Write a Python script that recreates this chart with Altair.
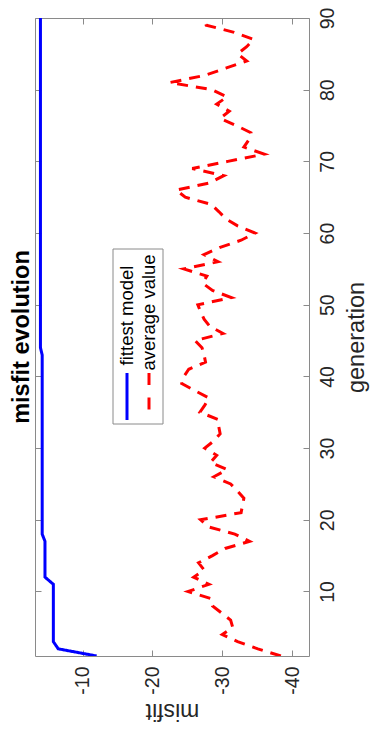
import altair as alt
import pandas as pd

# Series names, in legend order
series_names = ["fittest model", "average value"]
series_colors = ["#0000ff", "#ff0000"]
chart_title = "misfit evolution"

# Generation index of every sample
generation = list(range(1, 91))

# Misfit of the best model found so far, per generation
fittest = [
    -12.0, -6.5, -5.8, -5.8, -5.8, -5.8, -5.8, -5.8, -5.8, -5.8,
    -5.8, -4.6, -4.6, -4.6, -4.6, -4.6, -4.6, -4.2, -4.2, -4.2,
    -4.2, -4.2, -4.2, -4.2, -4.2, -4.2, -4.2, -4.2, -4.2, -4.2,
    -4.2, -4.2, -4.2, -4.2, -4.2, -4.2, -4.2, -4.2, -4.2, -4.2,
    -4.2, -4.2, -4.2, -3.95, -3.95, -3.95, -3.95, -3.95, -3.95, -3.95,
    -3.95, -3.95, -3.95, -3.95, -3.95, -3.95, -3.95, -3.95, -3.95, -3.95,
    -3.95, -3.95, -3.95, -3.95, -3.95, -3.95, -3.95, -3.95, -3.95, -3.95,
    -3.95, -3.95, -3.95, -3.95, -3.95, -3.95, -3.95, -3.95, -3.95, -3.95,
    -3.95, -3.95, -3.95, -3.95, -3.95, -3.95, -3.95, -3.95, -3.95, -3.95,
]

# Mean misfit of the population, per generation
average = [
    -38.4, -35.1, -32.2, -30.0, -31.5, -31.2, -29.9, -28.6, -28.4, -25.1,
    -28.1, -25.9, -27.4, -26.6, -28.6, -30.4, -33.9, -31.8, -28.1, -26.9,
    -32.7, -32.9, -33.1, -32.2, -31.2, -28.8, -30.7, -28.3, -29.2, -27.5,
    -28.8, -29.7, -29.5, -29.4, -26.8, -27.5, -28.1, -26.1, -24.2, -24.5,
    -25.2, -27.6, -27.4, -27.1, -26.1, -30.1, -28.2, -27.4, -26.9, -26.5,
    -31.3, -28.6, -27.2, -27.8, -24.5, -29.4, -27.4, -29.7, -32.7, -34.7,
    -32.2, -30.5, -29.5, -28.4, -24.7, -23.4, -28.2, -30.2, -25.7, -30.8,
    -36.0, -33.1, -33.8, -34.1, -32.0, -29.7, -31.0, -29.2, -30.7, -28.5,
    -22.5, -27.5, -30.5, -33.5, -32.2, -33.5, -34.5, -31.7, -27.7, -27.4,
]

# Axis ticks
misfit_ticks = [-40, -30, -20, -10]
generation_ticks = [10, 20, 30, 40, 50, 60, 70, 80, 90]
misfit_range = [-42.43, -3.17]
generation_range = [1, 90]

FONT = "Liberation Sans"
TEXT = "#262626"
FRAME = "#8a8a8a"
W, H = 274, 638
TICK = 6

df = pd.DataFrame(
    {
        "generation": generation * 2,
        "misfit": fittest + average,
        "series": [series_names[0]] * len(fittest) + [series_names[1]] * len(average),
    }
)

x_enc = alt.X(
    "misfit:Q",
    scale=alt.Scale(domain=misfit_range, reverse=True, nice=False, zero=False),
    axis=alt.Axis(
        orient="bottom",
        values=misfit_ticks,
        labelExpr="datum.value < 0 ? '-' + (-datum.value) : '' + datum.value",
        labelAngle=270,
        labelAlign="right",
        labelBaseline="middle",
        labelPadding=10,
        labelFont=FONT,
        labelFontSize=19.5,
        labelColor=TEXT,
        tickSize=0,
        domain=False,
        grid=True,
        gridColor=FRAME,
        gridWidth=1,
        gridDash=[TICK, H - 2 * TICK, TICK, 4000],
        title="misfit",
        titleAngle=180,
        titleFont=FONT,
        titleFontSize=23,
        titleFontWeight="normal",
        titleColor=TEXT,
        titleBaseline="middle",
        titleX=W / 2,
        titleY=54,
    ),
)

y_enc = alt.Y(
    "generation:Q",
    scale=alt.Scale(domain=generation_range, nice=False, zero=False),
    axis=alt.Axis(
        orient="right",
        values=generation_ticks,
        labelAngle=270,
        labelAlign="center",
        labelBaseline="middle",
        labelPadding=18,
        labelFont=FONT,
        labelFontSize=19.5,
        labelColor=TEXT,
        tickSize=0,
        domain=False,
        grid=True,
        gridColor=FRAME,
        gridWidth=1,
        gridDash=[TICK, W - 2 * TICK, TICK, 4000],
        title="generation",
        titleAngle=270,
        titleFont=FONT,
        titleFontSize=23.5,
        titleFontWeight="normal",
        titleColor=TEXT,
        titleBaseline="middle",
        titleX=47,
        titleY=H / 2,
    ),
)

lines = (
    alt.Chart(df)
    .mark_line(strokeWidth=3, clip=True, strokeCap="butt", strokeJoin="miter")
    .encode(
        x=x_enc,
        y=y_enc,
        order=alt.Order("generation:Q"),
        detail="series:N",
        color=alt.Color(
            "series:N",
            scale=alt.Scale(domain=series_names, range=series_colors),
            legend=None,
        ),
        strokeDash=alt.StrokeDash(
            "series:N",
            scale=alt.Scale(domain=series_names, range=[[1, 0], [11, 8]]),
            legend=None,
        ),
    )
)

one_row = pd.DataFrame({"k": [0]})

# Rotated title on the left of the frame
title_mark = alt.Chart(one_row).mark_text(
    angle=270, align="center", baseline="middle", font=FONT,
    fontSize=23.5, fontWeight="bold", color="black",
).encode(x=alt.value(-13), y=alt.value(H / 2), text=alt.value(chart_title))

# Legend drawn in the same rotated orientation as the rest of the figure
legend_box = alt.Chart(one_row).mark_rect(
    fill="white", stroke=FRAME, strokeWidth=1
).encode(
    x=alt.value(78), x2=alt.value(128), y=alt.value(231), y2=alt.value(406)
)

legend_blue = alt.Chart(one_row).mark_rule(
    color=series_colors[0], strokeWidth=3
).encode(x=alt.value(92), y=alt.value(355), y2=alt.value(402))

legend_red = alt.Chart(one_row).mark_rule(
    color=series_colors[1], strokeWidth=3, strokeDash=[12, 12.5], strokeCap="butt",
).encode(x=alt.value(114), y=alt.value(355), y2=alt.value(404))

legend_text = [
    alt.Chart(one_row).mark_text(
        angle=270, align="center", baseline="middle", font=FONT, fontSize=18.5, color="black"
    ).encode(x=alt.value(xp), y=alt.value(yc), text=alt.value(name))
    for xp, yc, name in zip([92, 114], [297.5, 294.5], series_names)
]

chart = (
    alt.layer(lines, title_mark, legend_box, legend_blue, legend_red, *legend_text)
    .properties(
        width=W,
        height=H,
        padding={"left": 35, "top": 18, "right": 371 - 35 - W, "bottom": 731 - 18 - H},
        autosize=alt.AutoSizeParams(type="none"),
        background="white",
    )
    .configure_view(stroke=FRAME, strokeWidth=1)
)

chart.save("out.html", embed_options={"renderer": "svg", "actions": False})
